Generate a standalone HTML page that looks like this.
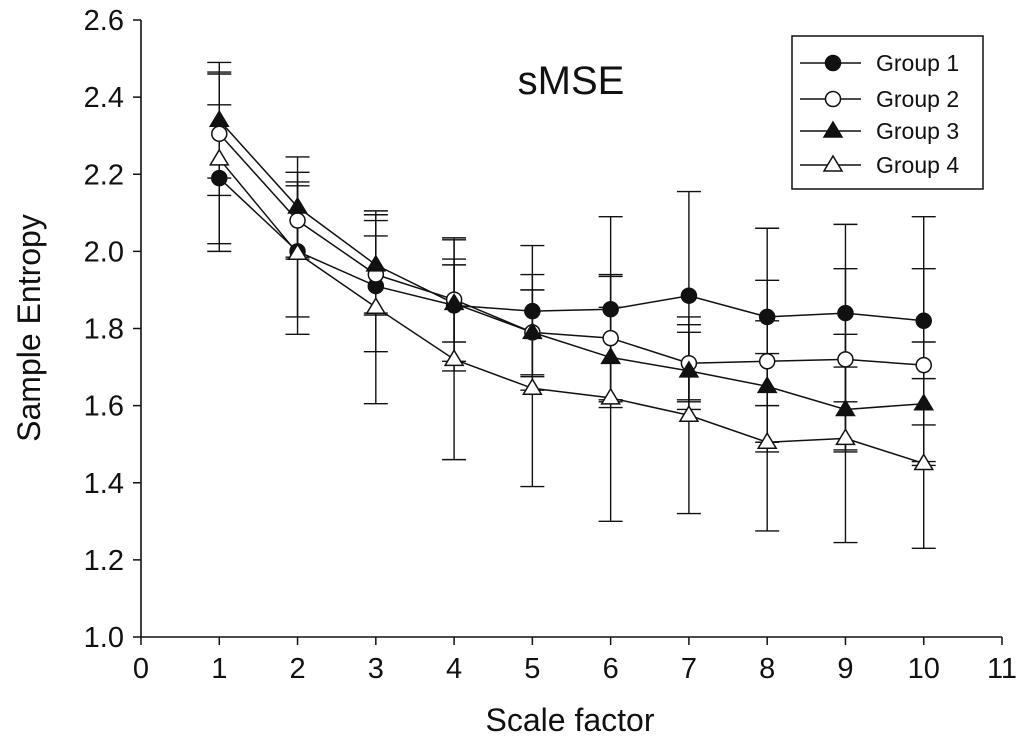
<!DOCTYPE html>
<html><head><meta charset="utf-8"><style>
body{margin:0;background:#fff;}
svg text{font-family:"Liberation Sans",Arial,sans-serif;fill:#111;}
</style></head><body>
<svg id="chart" width="1024" height="750" xmlns="http://www.w3.org/2000/svg">
<g id="axes"></g>
<g id="series"></g>
<text x="571" y="94" font-size="40" text-anchor="middle">sMSE</text>
<text x="570" y="731" font-size="32" text-anchor="middle">Scale factor</text>
<text x="40" y="328" font-size="32" text-anchor="middle" transform="rotate(-90 40 328)">Sample Entropy</text>
<g id="legend">
<rect x="792" y="36" width="191" height="153" fill="#fff" stroke="#111" stroke-width="1.5"/>
</g>
</svg>
<script>
const scales = [1,2,3,4,5,6,7,8,9,10];
const groupNames = ["Group 1","Group 2","Group 3","Group 4"];
const g1Mean = [2.19,2.00,1.91,1.86,1.845,1.85,1.885,1.83,1.84,1.82];
const g1Sd   = [0.19,0.17,0.17,0.17,0.17,0.24,0.27,0.23,0.23,0.27];
const g2Mean = [2.305,2.08,1.94,1.875,1.79,1.775,1.71,1.715,1.72,1.705];
const g2Sd   = [0.16,0.10,0.10,0.16,0.15,0.16,0.10,0.21,0.235,0.25];
const g3Mean = [2.34,2.115,1.965,1.865,1.79,1.725,1.69,1.65,1.59,1.605];
const g3Sd   = [0.15,0.13,0.13,0.10,0.11,0.13,0.10,0.17,0.11,0.16];
const g4Mean = [2.24,1.995,1.855,1.72,1.645,1.62,1.575,1.505,1.515,1.45];
const g4Sd   = [0.22,0.21,0.25,0.26,0.255,0.32,0.255,0.23,0.27,0.22];
const xTicks = [0,1,2,3,4,5,6,7,8,9,10,11];
const yTicks = ["1.0","1.2","1.4","1.6","1.8","2.0","2.2","2.4","2.6"];

const NS="http://www.w3.org/2000/svg";
const X0=141, X1=1002, Y0=637, Y1=20;
const xs=v=>X0+(v-0)/11*(X1-X0);
const ys=v=>Y0-(v-1.0)/1.6*(Y0-Y1);
function mk(tag,attrs,parent){const e=document.createElementNS(NS,tag);for(const k in attrs)e.setAttribute(k,attrs[k]);parent.appendChild(e);return e;}
const axes=document.getElementById('axes');
const ax=mk('path',{d:`M${X0},${Y1} V${Y0} H${X1}`,fill:'none',stroke:'#111','stroke-width':1.6},axes);


xTicks.forEach(t=>{
  const l=mk('line',{x1:xs(t),x2:xs(t),y1:Y0,y2:Y0+8,stroke:'#111','stroke-width':1.5},axes);
  
  
  const tx=mk('text',{x:xs(t),y:678,'font-size':29,'text-anchor':'middle'},axes);
  tx.textContent=t;
  
  
});
yTicks.forEach(t=>{
  const v=parseFloat(t);
  const l=mk('line',{x1:X0-8,x2:X0,y1:ys(v),y2:ys(v),stroke:'#111','stroke-width':1.5},axes);
  
  
  const tx=mk('text',{x:124,y:ys(v)+10,'font-size':29,'text-anchor':'end'},axes);
  tx.textContent=t;
  
  
});
function marker(kind,x,y,parent){
  let e;
  const fill=(kind==='fc'||kind==='ft')?'#111':'#fff';
  if(kind==='fc'||kind==='oc') e=mk('circle',{cx:x,cy:y,r:7.5,fill:fill,stroke:'#111','stroke-width':1.5},parent);
  else e=mk('polygon',{points:`${x},${y-9} ${x+9},${y+6} ${x-9},${y+6}`,fill:fill,stroke:'#111','stroke-width':1.5},parent);
  return e;
}
const groups=[[g1Mean,g1Sd,'fc'],[g2Mean,g2Sd,'oc'],[g3Mean,g3Sd,'ft'],[g4Mean,g4Sd,'ot']];
const ser=document.getElementById('series');
groups.forEach((g,gi)=>{
  const [m,s,k]=g;
  const grp=mk('g',{},ser);
  
  
  scales.forEach((x,i)=>{
    const eb=mk('path',{d:`M${xs(x)},${ys(m[i]+s[i])} V${ys(m[i]-s[i])} M${xs(x)-12},${ys(m[i]+s[i])} h24 M${xs(x)-12},${ys(m[i]-s[i])} h24`,stroke:'#111','stroke-width':1.4,fill:'none'},grp);
    
    
  });
  const ln=mk('polyline',{points:scales.map((x,i)=>xs(x)+','+ys(m[i])).join(' '),fill:'none',stroke:'#111','stroke-width':1.5},grp);
  
  
});
groups.forEach((g,gi)=>{
  const [m,s,k]=g;
  scales.forEach((x,i)=>{
    const p=marker(k,xs(x),ys(m[i]),ser);
    
    
  });
});
const leg=document.getElementById('legend');
const legY=[63,99,131,165];
groups.forEach((g,gi)=>{
  const l=mk('line',{x1:800,x2:861,y1:legY[gi],y2:legY[gi],stroke:'#111','stroke-width':1.5},leg);
  
  
  const mm=marker(g[2],833,legY[gi],leg);
  
  
  const t=mk('text',{x:876,y:legY[gi]+8,'font-size':23},leg);
  t.textContent=groupNames[gi];
  
  
});
</script>
</body></html>
